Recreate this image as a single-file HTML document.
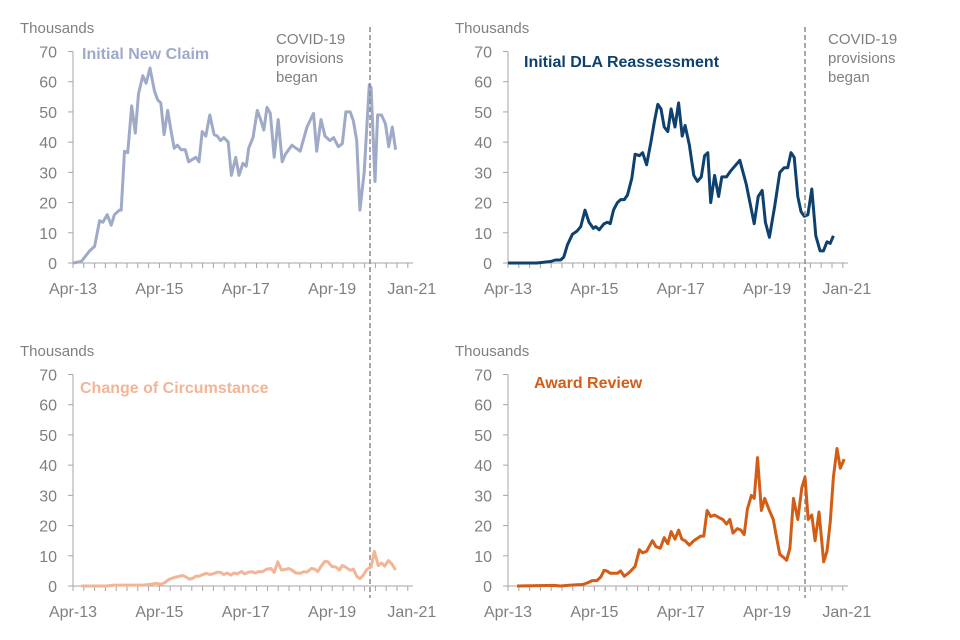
<!DOCTYPE html>
<html><head><meta charset="utf-8">
<style>
body{margin:0;background:#fff;}
svg{display:block;font-family:"Liberation Sans",Arial,sans-serif;}
</style></head>
<body>
<svg id="c" width="960" height="640" viewBox="0 0 960 640"></svg>
<script>
// x values = months since Apr-13; y values = thousands
const nclM=[0,2.3,4.6,6,7.4,8.3,9.5,10.6,11.5,12.9,13.4,14.3,15.2,16.3,17.3,18.2,19.4,20.3,21.4,22.6,23.5,24.4,25.3,26.3,27.2,28.1,29,30,31.2,32.1,34.1,35,35.9,36.9,38,39.2,40.1,41,41.9,43.1,44,45.2,46.1,47.2,48.1,48.8,50,51.2,52.1,53,53.9,54.8,55.9,57,58.1,59,60.8,63.1,65,66.8,67.7,68.9,70,71.4,72.4,73.7,74.8,75.8,77,77.9,78.8,79.7,80.9,81.6,82.3,82.8,83.9,84.6,85.7,86.8,87.7,88.7,89.6];
const nclV=[0,0.5,4,5.5,14,13.5,16,12.5,16,17.5,17.5,37,36.5,52,43,56,62,59.5,64.5,57,54,53,42.5,50.5,44,38,39,37.5,37.5,33.5,35,33.5,43.5,42,49,42.5,42,40.5,41.5,40,29,35,29,33,32,38,41.5,50.5,47.5,44,51.5,49.5,35,47.5,33.5,36,39,37,45,49.5,37,47.5,42,40.5,41.5,38.5,39.5,50,50,47,40.5,17.5,30,45,59,58,27,49,49,46,38.5,45,37.5];
const dlaM=[0,8,11.8,13.2,14.6,15.5,16.5,17.9,19.1,20.2,21.4,22.5,23.7,24.4,25.3,26.7,27.6,28.4,29.3,30.4,31.3,32.3,33.2,34.4,35.3,36.5,37.4,38.5,39.7,40.7,41.6,42.5,43.4,44.4,45.3,46.4,47.4,48.4,49.2,50.4,51.6,52.6,53.7,54.6,55.5,56.3,57.4,58.5,59.4,60.7,61.9,64.4,66.2,68.4,69.5,70.6,71.5,72.6,74.1,75.5,76.7,77.7,78.6,79.5,80.5,81.4,82.3,83.3,84.4,85.5,86.7,87.6,88.6,89.5,90.4];
const dlaV=[0,0,0.5,1,1,2,6,9.5,10.5,12,17.5,13.5,11.5,12,11,13,13.5,13,17.5,20,21,21,22.5,28,36,35.5,36.5,32.5,40,47,52.5,51,45,43.5,51,45,53,42,45.5,39,29,27,28.5,35.5,36.5,20,29,22,28.5,28.5,30.5,34,26,13,22,24,13.5,8.5,19,30,31.5,31.5,36.5,35,22,17,15.5,16,24.5,9,4,4,7,6.5,9];
const cocM=[2.3,9.2,11.5,19.4,21.7,23,24.4,25.3,26.7,28.1,29.5,30.4,31.3,32.3,33.2,34.1,35,35.9,37,38,38.9,40.1,41,41.9,42.9,43.8,44.7,45.6,46.8,47.7,48.8,49.8,50.7,51.6,52.5,53.9,55,55.9,56.9,57.9,59,59.9,60.8,61.9,63.1,64.1,65,66.2,67.1,68,68.9,70,70.8,71.9,73,74,74.8,75.8,77,77.9,78.8,79.7,80.6,81.6,82.8,83.7,84.8,85.7,86.6,87.6,88.5,89.6];
const cocV=[0,0,0.3,0.3,0.6,0.9,0.6,1,2.2,2.8,3.2,3.5,3,2.3,2.5,3.2,3.2,3.7,4.2,3.8,4,4.6,4.5,3.8,4.3,3.6,4.3,4,4.8,4,4.6,4.7,4.3,4.8,4.7,5.6,5.8,4.5,8,5.3,5.5,5.8,5.3,4.3,4.2,4.7,4.6,5.8,5.6,4.8,6.5,8.2,8,6.5,6.3,5.3,6.8,6.2,5.2,5.6,3.2,2.4,3.5,5.5,6.3,11.5,6.8,7.6,6.6,8.4,7.4,5.3];
const arM=[2.5,12.7,14.6,17.4,20.7,22,23.4,24.7,25.8,26.7,27.4,28.4,30.4,31.3,32.3,33.7,35.3,36.5,37.4,38.5,40.1,41.1,42.3,43.4,44.4,45.3,46.4,47.4,48.3,49.2,50.4,51.6,53.5,54.4,55.3,56.3,57.4,58.8,59.7,60.7,61.6,62.5,63.7,64.7,65.6,66.5,67.6,68.4,69.3,70.4,71.3,72.6,73.7,74.6,75.5,76.5,77.4,78.3,79.3,80.5,81.6,82.5,83.4,84.4,85.3,86.4,87.7,88.6,89.5,90.4,91.4,92.3,93.4];
const arV=[0,0.2,0,0.3,0.5,1,1.8,1.8,3,5.2,5,4.2,4.2,5,3.2,4.5,6.5,12,11,11.5,15,13,12.5,16,14,18,15.5,18.5,15.5,15,13.5,15,16.5,16.5,25,23,23.5,22.5,22,20.5,22,17.5,19,18.5,17,25.5,30,29,42.5,25,29,25,22,16,10.5,9.5,8.5,12.5,29,22,32.5,36,22,23.5,15,24.5,8,11.5,21,36,45.5,39,42];
const yTicks=[0,10,20,30,40,50,60,70];
const xTickLabels=["Apr-13","Apr-15","Apr-17","Apr-19","Jan-21"];
const xTickMonths=[0,24,48,72,93];
const covidMonth=82.5;

const svg=document.getElementById('c');
const NS='http://www.w3.org/2000/svg';
function mk(tag,attrs,parent){const e=document.createElementNS(NS,tag);for(const k in attrs)e.setAttribute(k,attrs[k]);(parent||svg).appendChild(e);return e;}

const panels=[
 {x0:73,y0:263,title:"Initial New Claim",tx:82,ty:59,color:"#9eaac8",M:nclM,V:nclV,name:"initial-new-claim",covidText:276},
 {x0:508,y0:263,title:"Initial DLA Reassessment",tx:524,ty:67,color:"#0e416e",M:dlaM,V:dlaV,name:"initial-dla-reassessment",covidText:828},
 {x0:73,y0:586,title:"Change of Circumstance",tx:80,ty:393,color:"#f2b596",M:cocM,V:cocV,name:"change-of-circumstance"},
 {x0:508,y0:586,title:"Award Review",tx:534,ty:388,color:"#d35d15",M:arM,V:arV,name:"award-review"}
];
const PXM=3.6, PXU=211.5/70;
panels.forEach(p=>{
  const g=mk('g',{});
  
  
  const xs=m=>p.x0+m*PXM, ys=v=>p.y0-v*PXU;
  const ax=mk('line',{x1:p.x0,y1:ys(70),x2:p.x0,y2:p.y0,stroke:'#a6a6a6','stroke-width':1},g);
  
  
  const bx=mk('line',{x1:p.x0,y1:p.y0,x2:p.x0+340,y2:p.y0,stroke:'#a6a6a6','stroke-width':1},g);
  
  
  yTicks.forEach(t=>{
    mk('line',{x1:p.x0-5,y1:ys(t),x2:p.x0,y2:ys(t),stroke:'#a6a6a6'},g);
    const tx=mk('text',{x:p.x0-16,y:ys(t)+6,'text-anchor':'end','font-size':16,fill:'#7f7f7f'},g);
    tx.textContent=t;
    
    
  });
  for(let q=0;q<=31;q++){mk('line',{x1:xs(q*3),y1:p.y0,x2:xs(q*3),y2:p.y0+5,stroke:'#a6a6a6'},g);}
  xTickLabels.forEach((l,i)=>{
    const tx=mk('text',{x:xs(xTickMonths[i])+(i==4?4:0),y:p.y0+31,'text-anchor':'middle','font-size':16,fill:'#7f7f7f'},g);
    tx.textContent=l;
    
    
  });
  const th=mk('text',{x:p.x0-53,y:p.y0-230,'font-size':15,fill:'#7f7f7f'},g);
  th.textContent='Thousands';
  
  
  const ti=mk('text',{x:p.tx,y:p.ty,'font-size':16,'font-weight':'bold',fill:p.color},g);
  ti.textContent=p.title;
  
  
  const d=p.M.map((m,i)=>(i?'L':'M')+xs(m).toFixed(1)+' '+ys(p.V[i]).toFixed(1)).join(' ');
  const path=mk('path',{d:d,fill:'none',stroke:p.color,'stroke-width':3,'stroke-linejoin':'round'},g);
  
  
  if(p.covidText){
    const cx=xs(covidMonth);
    const dl=mk('line',{x1:cx,y1:27,x2:cx,y2:598,stroke:'#8c8c8c','stroke-width':1.5,'stroke-dasharray':'5,3'},g);
    
    
    ['COVID-19','provisions','began'].forEach((s,i)=>{
      const t=mk('text',{x:p.covidText,y:44+i*19,'font-size':15,fill:'#7f7f7f'},g);
      t.textContent=s;
      
      
    });
  }
});
</script>
</body></html>
